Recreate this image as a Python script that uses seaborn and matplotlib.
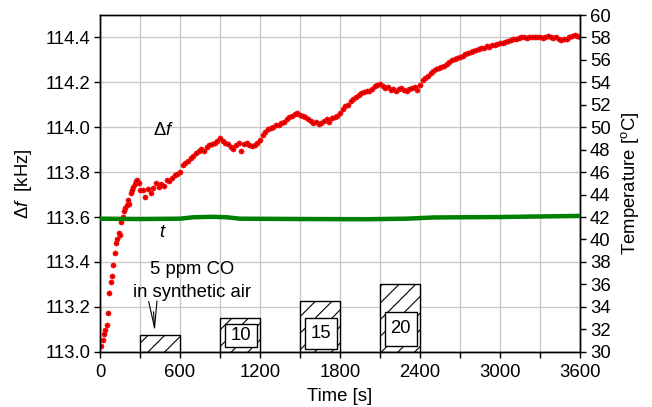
import numpy as np
import pandas as pd
import matplotlib
matplotlib.use("Agg")
import matplotlib.pyplot as plt
from matplotlib.patches import Rectangle
from matplotlib.ticker import MultipleLocator, FormatStrFormatter
import seaborn as sns

# ---- sensor frequency shift (kHz) ----
time_fast = np.arange(10, 301, 10)          # 10 s sampling during warm-up
time_slow = np.arange(320, 3601, 20)        # 20 s sampling afterwards
delta_f = [
    # 10 .. 300 s
    113.027, 113.050, 113.080, 113.097, 113.119, 113.171, 113.260, 113.310, 113.335, 113.387,
    113.440, 113.484, 113.500, 113.530, 113.520, 113.580, 113.600, 113.625, 113.640, 113.655,
    113.677, 113.660, 113.707, 113.720, 113.734, 113.745, 113.759, 113.765, 113.750, 113.722,
    # 320 .. 500 s
    113.720, 113.690, 113.725, 113.705, 113.730, 113.750, 113.735, 113.745, 113.740, 113.767,
    # 520 .. 700 s
    113.760, 113.775, 113.785, 113.790, 113.800, 113.830, 113.840, 113.850, 113.865, 113.870,
    # 720 .. 900 s
    113.885, 113.895, 113.905, 113.895, 113.910, 113.920, 113.925, 113.930, 113.940, 113.950,
    # 920 .. 1100 s
    113.940, 113.930, 113.925, 113.910, 113.905, 113.920, 113.930, 113.895, 113.925, 113.930,
    # 1120 .. 1300 s
    113.920, 113.915, 113.920, 113.930, 113.945, 113.965, 113.980, 113.990, 113.995, 114.000,
    # 1320 .. 1500 s
    114.010, 114.012, 114.020, 114.025, 114.035, 114.045, 114.050, 114.060, 114.062, 114.055,
    # 1520 .. 1700 s
    114.050, 114.045, 114.035, 114.030, 114.020, 114.025, 114.015, 114.020, 114.030, 114.035,
    # 1720 .. 1900 s
    114.025, 114.040, 114.045, 114.050, 114.065, 114.080, 114.094, 114.100, 114.115, 114.124,
    # 1920 .. 2100 s
    114.135, 114.145, 114.154, 114.155, 114.160, 114.162, 114.170, 114.184, 114.190, 114.194,
    # 2120 .. 2300 s
    114.185, 114.176, 114.180, 114.165, 114.172, 114.160, 114.170, 114.175, 114.165, 114.160,
    # 2320 .. 2500 s
    114.170, 114.175, 114.178, 114.165, 114.190, 114.210, 114.221, 114.230, 114.243, 114.250,
    # 2520 .. 2700 s
    114.260, 114.266, 114.270, 114.275, 114.280, 114.290, 114.300, 114.305, 114.310, 114.315,
    # 2720 .. 2900 s
    114.318, 114.325, 114.330, 114.335, 114.340, 114.345, 114.350, 114.352, 114.355, 114.360,
    # 2920 .. 3100 s
    114.358, 114.365, 114.368, 114.370, 114.375, 114.377, 114.380, 114.385, 114.390, 114.392,
    # 3120 .. 3300 s
    114.395, 114.398, 114.400, 114.400, 114.398, 114.402, 114.400, 114.404, 114.400, 114.402,
    # 3320 .. 3500 s
    114.398, 114.403, 114.405, 114.400, 114.398, 114.400, 114.395, 114.390, 114.392, 114.395,
    # 3520 .. 3600 s
    114.400, 114.405, 114.410, 114.405, 114.400,
]
time_df = np.concatenate([time_fast, time_slow])

# ---- cell temperature (degC) ----
time_temp = [0, 300, 600, 700, 850, 950, 1050, 1500, 2000, 2300, 2500, 3000, 3600]
temperature = [41.85, 41.82, 41.85, 41.98, 42.02, 41.98, 41.85, 41.82, 41.80, 41.85, 41.96, 42.0, 42.1]

# ---- CO pulses ----
pulse_start = [300, 900, 1500, 2100]
pulse_length = 300
pulse_ppm = [5, 10, 15, 20]
pulse_labels = ["10", "15", "20"]

df_f = pd.DataFrame({"time": time_df, "df": delta_f})
df_t = pd.DataFrame({"time": time_temp, "T": temperature})

FS = 13.3
sns.set_theme(style="white")
plt.rcParams["font.family"] = ["Liberation Sans", "DejaVu Sans"]
plt.rcParams["mathtext.fontset"] = "custom"
plt.rcParams["mathtext.rm"] = "Liberation Sans"
plt.rcParams["mathtext.it"] = "Liberation Sans:italic"
plt.rcParams["hatch.linewidth"] = 0.8
plt.rcParams["text.color"] = "black"
plt.rcParams["axes.labelcolor"] = "black"
plt.rcParams["xtick.color"] = "black"
plt.rcParams["ytick.color"] = "black"

fig = plt.figure(figsize=(6.52, 4.07), dpi=100)
ax = fig.add_axes([0.1534, 0.1359, 0.7362, 0.8272])
ax2 = ax.twinx()

Y0, Y1 = 113.0, 114.5
ax.set_xlim(0, 3600)
ax.set_ylim(Y0, Y1)
ax2.set_ylim(30, 60)

# grid
ax.xaxis.set_major_locator(MultipleLocator(600))
ax.xaxis.set_minor_locator(MultipleLocator(300))
ax.yaxis.set_major_locator(MultipleLocator(0.2))
ax.yaxis.set_major_formatter(FormatStrFormatter("%.1f"))
ax2.yaxis.set_major_locator(MultipleLocator(2))
ax.grid(True, which="both", axis="x", color="#c8c8c8", lw=1.0)
ax.grid(True, which="major", axis="y", color="#c8c8c8", lw=1.0)
ax.set_axisbelow(True)

# CO pulses: bar height scales with concentration
bar_h = [p * 0.015 for p in pulse_ppm]
ax.bar(pulse_start, bar_h, width=pulse_length, bottom=Y0, align="edge",
       facecolor="white", edgecolor="black", hatch="//", lw=1.0, zorder=2)

# white label boxes inside the 10/15/20 ppm pulses
box_specs = [(937, 1178, 113.020, 113.124), (1540, 1780, 113.012, 113.152), (2137, 2375, 113.027, 113.177)]
for (x0, x1, y0, y1), lab in zip(box_specs, pulse_labels):
    ax.add_patch(Rectangle((x0, y0), x1 - x0, y1 - y0, facecolor="white",
                           edgecolor="black", lw=1.0, zorder=3))
    ax.text((x0 + x1) / 2, (y0 + y1) / 2, lab, ha="center", va="center",
            fontsize=FS, zorder=4)

ax.text(690, 113.365, "5 ppm CO", ha="center", va="center", fontsize=FS)
ax.text(690, 113.262, "in synthetic air", ha="center", va="center", fontsize=FS)
ax.annotate("", xy=(412, 113.078), xytext=(400, 113.19),
            arrowprops=dict(arrowstyle="->,head_length=1.6,head_width=0.25",
                            color="black", lw=0.8), zorder=5)

# temperature trace on the right axis
sns.lineplot(data=df_t, x="time", y="T", ax=ax2, color="#008000", lw=3.2,
             zorder=3, legend=False)

# frequency shift points
sns.scatterplot(data=df_f, x="time", y="df", ax=ax, color="#ff0000", s=14,
                edgecolor="#e00000", linewidth=0.3, zorder=6, legend=False)
sns.scatterplot(data=df_f, x="time", y="df", ax=ax, color="#300000", s=0.7,
                linewidth=0, zorder=7, legend=False)

ax.text(480, 113.985, r"$\Delta f$", ha="center", va="center", fontsize=FS)
ax.text(470, 113.53, r"$t$", ha="center", va="center", fontsize=FS)

ax.set_xlabel("Time [s]", fontsize=FS, labelpad=5)
ax.set_ylabel(r"$\Delta f$  [kHz]", fontsize=FS, labelpad=8)
ax2.set_ylabel(r"Temperature [$^{\mathrm{o}}$C]", fontsize=FS, labelpad=6)
ax2.set_xlabel("")

for a in (ax, ax2):
    for s in a.spines.values():
        s.set_visible(True)
        s.set_color("black")
        s.set_linewidth(1.0)
    a.tick_params(which="both", direction="out", length=4, width=1.0,
                  color="black", labelcolor="black", labelsize=FS, pad=3)
ax.tick_params(axis="x", which="both", pad=5)
ax.tick_params(axis="y", left=True, right=False)
ax.tick_params(axis="x", which="both", bottom=True, top=False)
ax2.tick_params(axis="y", right=True, left=False)
ax2.grid(False)

fig.savefig("out.png", dpi=100)
